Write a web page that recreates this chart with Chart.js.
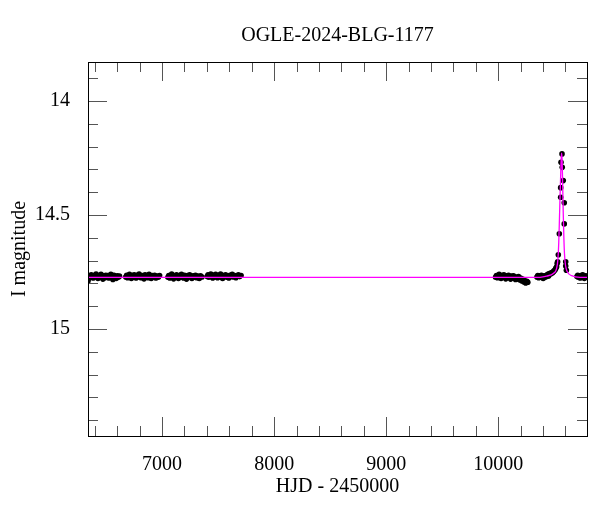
<!DOCTYPE html>
<html>
<head>
<meta charset="utf-8">
<title>OGLE-2024-BLG-1177</title>
<script src="https://cdn.jsdelivr.net/npm/chart.js@4/dist/chart.umd.min.js"></script>
<style>
  html, body { margin: 0; padding: 0; background: #fff; }
  #wrap { width: 600px; height: 512px; }
</style>
</head>
<body>
<div id="wrap"><canvas id="lc" width="600" height="512"></canvas></div>
<script>
// photometry, [HJD - 2450000, I mag], one array per observing season
const season2013 = [[6338,14.790],[6345,14.780],[6352,14.767],[6361,14.773],[6368,14.762],[6377,14.770],[6385,14.776],[6394,14.765],[6402,14.772],[6411,14.759],[6420,14.768],[6428,14.778],[6437,14.767],[6446,14.773],[6455,14.760],[6463,14.770],[6472,14.781],[6481,14.767],[6490,14.775],[6498,14.764],[6507,14.772],[6516,14.765],[6525,14.776],[6534,14.768],[6543,14.760],[6552,14.773],[6561,14.783],[6571,14.764],[6580,14.770],[6590,14.778],[6600,14.767],[6611,14.773],[6620,14.768]];
const season2014 = [[6676,14.772],[6684,14.764],[6692,14.775],[6700,14.767],[6709,14.760],[6717,14.770],[6726,14.778],[6734,14.765],[6743,14.773],[6751,14.762],[6760,14.768],[6768,14.776],[6777,14.764],[6786,14.772],[6795,14.759],[6803,14.767],[6812,14.775],[6821,14.765],[6830,14.770],[6839,14.780],[6848,14.762],[6857,14.772],[6866,14.767],[6875,14.775],[6884,14.760],[6894,14.770],[6903,14.778],[6913,14.765],[6923,14.772],[6934,14.764],[6945,14.776],[6956,14.768],[6967,14.773],[6978,14.765]];
const season2015 = [[7052,14.773],[7060,14.765],[7069,14.776],[7077,14.767],[7086,14.759],[7094,14.770],[7103,14.780],[7111,14.767],[7120,14.773],[7129,14.762],[7137,14.770],[7146,14.778],[7155,14.765],[7164,14.772],[7173,14.760],[7182,14.768],[7191,14.776],[7200,14.764],[7209,14.772],[7218,14.781],[7227,14.765],[7236,14.773],[7246,14.762],[7256,14.770],[7266,14.778],[7276,14.767],[7287,14.773],[7298,14.764],[7309,14.775],[7320,14.768],[7332,14.778],[7344,14.767],[7356,14.772]];
const season2016 = [[7402,14.770],[7410,14.762],[7418,14.773],[7427,14.765],[7435,14.759],[7444,14.768],[7452,14.776],[7461,14.764],[7469,14.772],[7478,14.760],[7487,14.767],[7495,14.775],[7504,14.765],[7513,14.772],[7522,14.759],[7531,14.768],[7540,14.778],[7549,14.765],[7558,14.770],[7567,14.762],[7577,14.773],[7586,14.767],[7596,14.776],[7606,14.764],[7616,14.770],[7626,14.760],[7637,14.772],[7648,14.765],[7659,14.775],[7670,14.767],[7681,14.762],[7693,14.770],[7705,14.765]];
const season2023 = [[9976,14.773],[9984,14.765],[9992,14.775],[10000,14.767],[10008,14.760],[10016,14.770],[10025,14.778],[10033,14.765],[10041,14.772],[10050,14.762],[10058,14.770],[10067,14.780],[10075,14.767],[10084,14.773],[10092,14.764],[10101,14.772],[10110,14.781],[10118,14.768],[10127,14.776],[10136,14.767],[10145,14.775],[10154,14.783],[10163,14.772],[10172,14.780],[10181,14.770],[10190,14.784],[10199,14.776],[10208,14.788],[10217,14.781],[10226,14.793],[10235,14.787],[10245,14.798],[10255,14.791],[10264,14.795]];
const season2024 = [[10345,14.772],[10353,14.765],[10361,14.775],[10369,14.767],[10377,14.773],[10385,14.764],[10393,14.772],[10401,14.778],[10409,14.767],[10417,14.773],[10425,14.765],[10433,14.770],[10441,14.760],[10449,14.767],[10455,14.758],[10462,14.756],[10470,14.758],[10478,14.752],[10485,14.753],[10491,14.749],[10498,14.745],[10506,14.741],[10513,14.734],[10521,14.727],[10526,14.712],[10530,14.705],[10536,14.674],[10545,14.582],[10557,14.422],[10557,14.380],[10560,14.269],[10569,14.232],[10571,14.291],[10580,14.349],[10589,14.446],[10589,14.539],[10602,14.705],[10602,14.724],[10608,14.742]];
const season2025 = [[10702,14.770],[10709,14.764],[10716,14.773],[10724,14.767],[10731,14.776],[10739,14.765],[10746,14.772],[10754,14.762],[10761,14.770],[10769,14.778],[10776,14.767],[10784,14.773],[10791,14.768]];

// model curve
const modelHjd = [6339, 10300, 10372, 10432, 10491, 10521, 10533, 10540, 10546, 10552, 10558, 10562, 10566, 10570, 10575, 10580, 10585, 10591, 10600, 10616, 10655, 10729, 10792];
const modelMag = [14.773, 14.773, 14.773, 14.768, 14.756, 14.734, 14.690, 14.620, 14.520, 14.410, 14.310, 14.250, 14.229, 14.260, 14.370, 14.490, 14.590, 14.670, 14.720, 14.749, 14.766, 14.773, 14.773];

const xTickLabels = [7000, 8000, 9000, 10000];
const yTickLabels = [14, 14.5, 15];

const allSeasons = [season2013, season2014, season2015, season2016, season2023, season2024, season2025];
const points = allSeasons.flat().map(p => ({ x: p[0], y: p[1] }));
const model = modelHjd.map((h, i) => ({ x: h, y: modelMag[i] }));

const serif = "'Liberation Serif', 'Times New Roman', serif";

// inward ticks on all four sides plus the frame
const frameTicks = {
  id: 'frameTicks',
  afterDraw(chart) {
    const { ctx, chartArea: a, scales: { x, y } } = chart;
    ctx.save();
    ctx.lineWidth = 1;
    ctx.strokeStyle = '#555';
    const seg = (x1, y1, x2, y2) => { ctx.beginPath(); ctx.moveTo(x1, y1); ctx.lineTo(x2, y2); ctx.stroke(); };
    for (let k = Math.ceil(x.min / 200); k * 200 <= x.max; k++) {
      const px = Math.round(x.getPixelForValue(k * 200)) + 0.5;
      const len = k % 5 === 0 ? 19 : 10;
      seg(px, a.bottom, px, a.bottom - len);
      seg(px, a.top, px, a.top + len);
    }
    for (let k = Math.ceil(y.min * 10); k / 10 <= y.max; k++) {
      const py = Math.round(y.getPixelForValue(k / 10)) + 0.5;
      const len = k % 5 === 0 ? 19 : 10;
      seg(a.left, py, a.left + len, py);
      seg(a.right, py, a.right - len, py);
    }
    ctx.strokeStyle = '#000';
    ctx.strokeRect(Math.round(a.left) + 0.5, Math.round(a.top) + 0.5, Math.round(a.right - a.left), Math.round(a.bottom - a.top));
    ctx.restore();
  }
};

new Chart(document.getElementById('lc'), {
  type: 'scatter',
  data: {
    datasets: [
      {
        label: 'model',
        data: model,
        showLine: true,
        borderColor: '#ff00ff',
        borderWidth: 1.3,
        pointRadius: 0,
        cubicInterpolationMode: 'monotone',
        order: 0
      },
      {
        label: 'OGLE I',
        data: points,
        backgroundColor: '#000',
        borderWidth: 0,
        pointRadius: 2.8,
        order: 1
      }
    ]
  },
  plugins: [frameTicks],
  options: {
    responsive: false,
    animation: false,
    layout: { padding: { left: 0, right: 13, top: 0, bottom: 0 } },
    plugins: {
      legend: { display: false },
      tooltip: { enabled: false },
      title: {
        display: true,
        fullSize: false,
        text: 'OGLE-2024-BLG-1177',
        color: '#000',
        font: { family: serif, size: 20, weight: 'normal', lineHeight: 1.2 },
        padding: { top: 24, bottom: 14 }
      }
    },
    scales: {
      x: {
        type: 'linear',
        min: 6339,
        max: 10792,
        grid: { display: false },
        border: { display: false },
        afterBuildTicks: s => { s.ticks = xTickLabels.map(v => ({ value: v })); },
        afterFit: s => { s.height = 76; },
        ticks: {
          color: '#000',
          padding: 9,
          maxRotation: 0,
          font: { family: serif, size: 20 },
          callback: v => String(v)
        },
        title: {
          display: true,
          text: 'HJD - 2450000',
          color: '#000',
          font: { family: serif, size: 20, lineHeight: 1.2 },
          padding: { top: 0, bottom: 13 }
        }
      },
      y: {
        type: 'linear',
        reverse: true,
        min: 13.829,
        max: 15.469,
        grid: { display: false },
        border: { display: false },
        afterBuildTicks: s => { s.ticks = yTickLabels.map(v => ({ value: v })); },
        afterFit: s => { s.width = 88; },
        ticks: {
          color: '#000',
          padding: 10,
          font: { family: serif, size: 20 },
          callback: v => String(v)
        },
        title: {
          display: true,
          text: 'I magnitude',
          color: '#000',
          font: { family: serif, size: 20, lineHeight: 1.2 },
          padding: { top: 8, bottom: 0 }
        }
      }
    }
  }
});
</script>
</body>
</html>
